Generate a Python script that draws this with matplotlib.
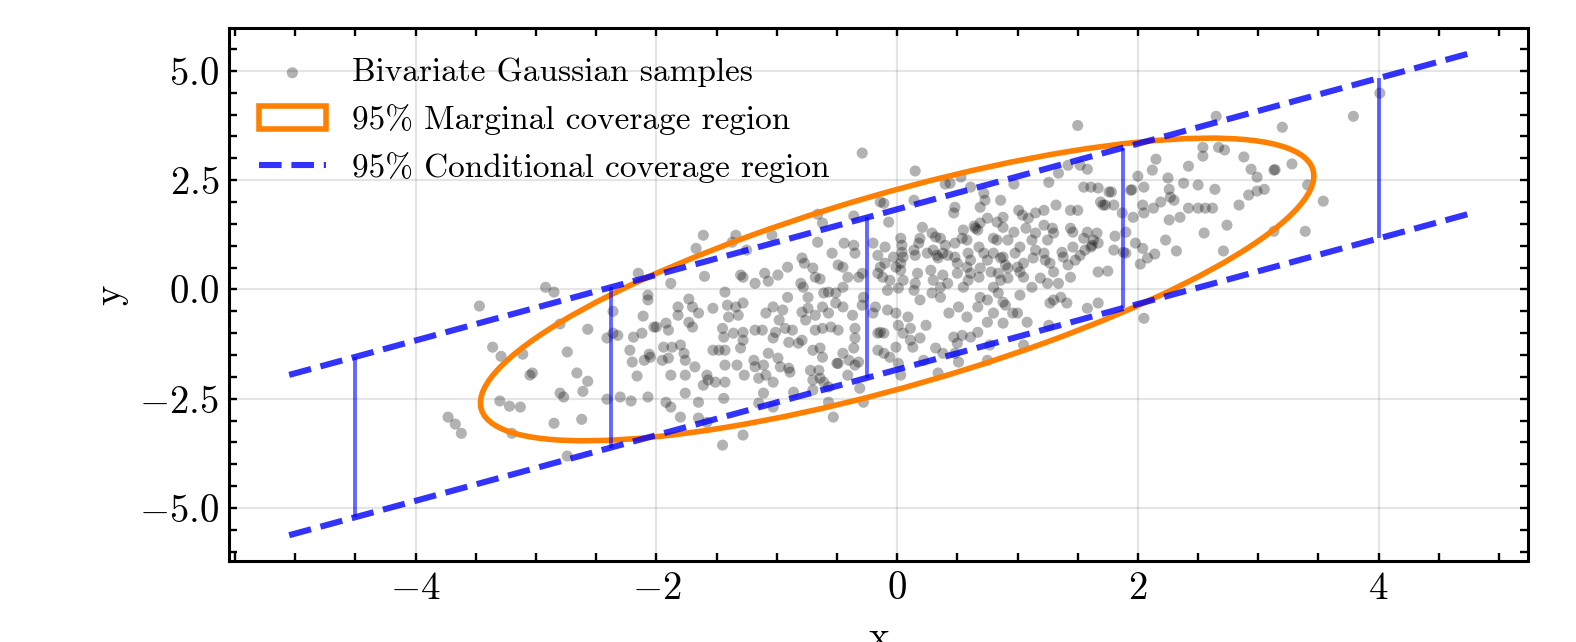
import numpy as np
import matplotlib
matplotlib.use("Agg")
import matplotlib.pyplot as plt
from matplotlib.patches import Ellipse
from matplotlib.ticker import MultipleLocator

# ---------------- data ----------------
mean = [0.0, 0.0]
cov = [[2.0, 1.5], [1.5, 2.0]]
chi2_95 = 5.991          # 95% quantile, chi-square with 2 dof
z_95 = 1.96              # 95% two-sided normal quantile
x_band = [-5.05, 4.75]   # extent of conditional band lines
x_cond = [-4.5, -2.375, -0.25, 1.875, 4.0]  # vertical interval markers

samples = [
    (-3.47,-0.38),(-3.36,-1.32),(-3.29,-1.53),(-3.11,-1.48),(-3.03,-1.91),(-3.05,-1.96),(-2.80,-0.79),(-2.74,-1.43),
    (-2.66,-1.91),(-2.57,-0.91),(-2.57,-2.10),(-2.80,-2.37),(-2.77,-2.46),(-2.61,-2.33),(-3.30,-2.55),(-3.22,-2.67),
    (-3.13,-2.69),(-3.73,-2.92),(-3.67,-3.08),(-3.62,-3.29),(-3.20,-3.29),(-2.85,-3.06),(-2.62,-2.97),(-2.74,-3.81),
    (-2.36,-0.50),(-2.36,-1.00),(-2.32,-1.05),(-2.41,-1.11),(-2.41,-2.51),(-2.30,-2.46),(-2.21,-2.55),(-2.07,-2.46),
    (-2.22,-1.39),(-2.19,-1.09),(-2.12,-1.00),(-2.11,-0.61),(-2.02,-0.86),(-2.20,-1.66),(-2.16,-1.98),(-2.10,-1.62),
    (-2.06,-1.48),(-2.05,-1.55),(-2.07,-0.24),
    (-2.92,0.05),(-2.85,-0.06),(-2.15,0.37),(-2.07,-0.13),
    (-0.29,3.12),(-1.61,1.24),(-1.67,0.94),(-1.34,1.24),(-1.37,1.08),(-1.25,0.90),(-1.04,1.24),(-0.66,1.72),
    (-0.62,1.52),(-0.66,1.08),(-0.36,1.68),(-0.36,1.01),(-0.44,1.06),(-0.35,0.83),(-1.60,0.30),(-1.88,0.14),
    (-1.73,-0.22),(-1.43,-0.06),(-1.30,0.33),(-1.28,0.28),(-1.18,0.14),(-1.10,0.37),(-1.07,0.19),(-0.99,0.33),
    (-0.91,0.51),(-0.79,0.72),(-0.77,0.60),(-0.80,0.14),(-0.78,0.05),(-0.70,0.49),(-0.68,0.28),(-0.64,0.24),
    (-0.61,-0.08),(-0.57,-0.06),(-0.51,-0.08),(-0.54,0.83),(-0.49,0.56),(-0.45,0.51),(-0.41,0.28),(-0.32,0.28),
    (-0.29,0.37),(-0.20,1.06),(-0.16,0.37),(-0.12,0.28),(-0.16,0.78),(-0.11,1.97),(-0.91,-0.18),(-0.74,-0.18),
    (-0.45,0.05),(-0.28,-0.18),
    (0.15,2.71),(0.14,2.04),(0.40,2.41),(0.44,2.43),(0.53,2.57),(0.61,2.34),(0.72,2.20),(0.73,2.04),
    (0.86,2.04),(0.69,1.88),(0.48,1.88),(0.47,1.75),(0.97,2.41),(1.26,2.45),(1.34,2.66),(1.42,2.84),
    (1.52,2.84),(1.58,2.75),(1.61,2.34),(1.67,2.32),(1.55,2.34),(1.69,2.00),(1.71,1.93),(1.76,2.23),
    (1.32,1.93),(1.44,1.81),(1.50,1.81),(1.01,1.81),(1.04,1.70),(1.15,1.75),(1.22,1.81),(1.09,1.63),
    (-0.14,2.00),(-0.07,1.54),(0.21,1.42),(0.65,1.40),(0.67,1.36),(0.64,1.45),(0.75,1.63),(0.69,1.52),
    (0.83,1.54),(0.88,1.65),(0.88,1.42),(0.97,1.31),(1.07,1.40),(1.22,1.47),(1.29,1.40),(1.30,1.29),
    (1.15,1.29),(1.44,1.40),(1.46,1.31),(1.58,1.31),(1.66,1.29),(1.55,1.17),(1.63,1.13),(1.61,0.97),
    (1.67,1.06),(1.25,1.13),(1.12,1.13),(0.92,1.13),(0.83,1.13),(0.80,1.17),(0.55,1.36),(0.54,1.17),
    (0.58,1.13),(0.48,1.06),(0.29,1.29),(0.32,1.20),(0.36,1.17),(0.19,1.17),(0.18,1.06),(0.03,1.17),
    (0.04,1.01),(-0.10,0.97),(0.40,1.01),(0.38,0.83),(0.42,0.78),(0.30,0.90),(0.33,0.78),(0.34,0.72),
    (0.25,0.83),(0.14,0.90),(0.15,0.78),(0.04,0.85),(0.05,0.74),(0.03,0.60),(-0.03,0.74),(-0.01,0.51),
    (-0.10,0.60),(-0.14,0.51),(0.48,0.74),(0.50,0.60),(0.59,0.83),(0.61,0.67),(0.68,0.97),(0.72,0.83),
    (0.75,0.67),(0.86,0.72),(0.88,0.74),(0.90,0.56),(0.92,0.49),(0.80,0.83),(0.98,0.83),(1.02,0.97),
    (1.05,0.60),(1.00,0.51),(1.13,0.72),(1.15,0.90),(1.22,0.83),(1.23,0.67),(1.27,0.60),(1.37,0.85),
    (1.38,0.74),(1.42,0.56),(1.46,0.97),(1.48,0.67),(1.52,0.78),(1.56,0.90),(1.62,1.01),(1.67,0.40),
    (1.44,0.28),(1.30,0.40),(1.34,0.14),(1.19,0.26),(1.25,0.14),(1.12,0.05),(1.02,0.40),(1.05,0.28),
    (0.92,0.26),(0.84,0.37),(0.86,0.21),(0.78,0.40),(0.80,0.05),(0.69,0.49),(0.68,0.28),(0.58,0.51),
    (0.61,0.37),(0.59,0.21),(0.50,0.37),(0.55,0.05),(0.38,0.33),(0.42,0.14),(0.36,0.05),(0.28,0.44),
    (0.30,0.21),(0.29,-0.08),(0.17,0.37),(0.15,0.14),(0.14,-0.02),(0.03,0.44),(0.05,0.21),(0.01,0.03),
    (-0.06,0.21),(-0.08,-0.02),(0.19,-0.24),(0.36,-0.18),(0.69,-0.18),(0.75,-0.24),(0.84,-0.08),(0.88,-0.29),
    (1.02,-0.13),(1.30,-0.24),(1.36,-0.18),
    (2.65,3.96),(3.20,3.71),(2.54,3.25),(2.54,3.05),(2.67,3.25),(2.72,3.19),(2.88,3.03),(2.15,2.98),
    (2.12,2.73),(2.42,2.82),(2.94,2.75),(2.99,2.57),(3.13,2.73),(3.14,2.74),(3.28,2.87),(2.00,2.59),
    (2.25,2.55),(2.38,2.43),(2.50,2.39),(2.64,2.29),(3.41,2.39),(3.05,2.29),(2.99,2.25),(2.92,2.16),
    (3.54,2.02),(1.78,2.23),(1.94,2.27),(1.95,2.28),(2.05,2.34),(2.26,2.29),(2.27,2.11),(2.30,2.04),
    (2.19,2.00),(2.13,1.86),(2.04,1.93),(2.05,1.75),(1.96,1.65),(1.73,1.93),(1.80,1.93),(1.87,1.75),
    (2.42,1.86),(2.50,1.86),(2.56,1.86),(2.62,1.86),(2.84,1.93),(2.26,1.59),(2.35,1.65),(2.74,1.47),
    (1.90,1.31),(1.81,1.22),(2.55,1.29),(3.13,1.33),(3.39,1.33),(2.23,1.13),(1.98,1.06),(2.04,0.94),
    (1.80,0.90),(1.88,0.85),(1.90,0.83),(2.32,0.88),(2.14,0.81),(2.08,0.72),(2.02,0.58),(2.71,0.88),
    (1.75,0.42),
    (4.01,4.49),(3.79,3.96),(2.05,-0.66),(1.50,3.75),
    (-1.82,-0.40),(-1.82,-0.59),(-1.92,-0.77),(-1.90,-0.93),(-2.00,-0.86),(-1.70,-0.40),(-1.65,-0.54),(-1.73,-0.75),
    (-1.70,-0.86),(-1.53,-0.43),(-1.41,-0.36),(-1.34,-0.40),(-1.28,-0.31),(-1.32,-0.59),(-1.40,-0.63),(-1.45,-0.89),
    (-1.44,-1.09),(-1.36,-1.00),(-1.28,-0.98),(-1.28,-1.16),(-1.48,-1.39),(-1.53,-1.39),(-1.43,-1.39),(-1.30,-1.34),
    (-1.18,-0.93),(-1.12,-0.93),(-1.09,-0.54),(-1.03,-0.40),(-0.95,-0.47),(-0.98,-0.70),(-1.03,-1.11),(-1.01,-0.98),
    (-0.87,-0.93),(-0.93,-0.89),(-0.90,-1.21),(-0.79,-0.52),(-0.74,-0.43),(-0.76,-0.70),(-0.68,-0.59),(-0.62,-0.40),
    (-0.57,-0.54),(-0.51,-0.31),(-0.45,-0.40),(-0.37,-0.59),(-0.29,-0.36),(-0.68,-0.93),(-0.62,-0.89),(-0.55,-0.86),
    (-0.49,-0.93),(-0.82,-1.23),(-0.79,-1.16),(-0.70,-1.39),(-0.64,-1.34),(-0.62,-1.55),(-0.35,-0.89),(-0.35,-1.11),
    (-0.36,-1.34),(-0.45,-1.46),(-0.50,-1.69),(-0.40,-1.62),(-0.32,-1.66),(-0.35,-1.73),(-0.16,-1.00),(-0.16,-1.39),
    (-0.20,-0.54),(-0.18,-0.40),(-1.94,-1.32),(-1.87,-1.32),(-1.80,-1.27),(-1.95,-1.62),(-1.90,-1.57),(-1.77,-1.46),
    (-1.76,-1.62),(-1.88,-1.96),(-1.76,-1.96),(-1.68,-1.77),(-1.58,-1.96),(-1.57,-2.07),(-1.51,-2.12),(-1.61,-2.19),
    (-1.43,-2.12),(-1.43,-1.73),(-1.33,-1.73),(-1.27,-1.96),(-1.18,-1.77),(-1.19,-1.62),(-1.11,-1.73),(-1.15,-2.03),
    (-1.09,-1.96),(-1.03,-2.12),(-1.07,-1.46),(-0.99,-1.57),(-0.97,-1.77),(-0.90,-1.80),(-0.89,-1.89),(-0.72,-1.85),
    (-0.65,-1.85),(-0.64,-2.03),(-0.70,-2.07),(-0.61,-2.12),(-0.57,-2.23),(-0.49,-1.69),(-0.41,-1.96),(-1.76,-2.37),
    (-1.92,-2.58),(-1.88,-2.69),(-1.80,-2.92),(-1.65,-2.58),(-1.44,-2.49),(-1.65,-2.94),(-1.58,-3.04),(-1.11,-2.37),
    (-1.15,-2.60),(-1.03,-2.69),(-0.86,-2.35),(-0.70,-2.30),(-0.57,-2.58),(-0.53,-2.92),(-0.31,-2.26),(-0.28,-2.58),
    (-1.28,-3.33),(-1.45,-3.56),
    (-0.01,-0.54),(0.09,-0.63),(0.01,-0.82),(0.05,-1.00),(0.11,-0.89),(0.13,-1.32),(0.11,-1.16),(0.19,-1.11),
    (0.24,-0.82),(-0.08,-0.47),(-0.14,-0.98),(-0.11,-1.00),(-0.01,-1.32),(-0.06,-1.55),(-0.11,-1.46),(0.01,-1.69),
    (0.03,-1.96),(0.22,-1.62),(0.32,-1.34),(0.34,-1.91),(0.38,-1.46),(0.47,-1.09),(0.50,-1.23),(0.54,-1.05),
    (0.61,-1.09),(0.67,-0.98),(0.43,-0.54),(0.51,-0.40),(0.58,-0.63),(0.67,-0.40),(0.75,-0.75),(0.80,-0.54),
    (0.88,-0.77),(0.90,-0.36),(0.96,-0.54),(1.00,-0.54),(1.08,-0.75),(1.27,-0.31),(1.41,-0.31),(1.58,-0.43),
    (1.67,-0.31),(1.26,-0.82),(1.05,-1.27),(0.77,-1.27),(0.48,-1.46),(0.51,-1.66),(0.75,-1.62),
]
sample_x = [p[0] for p in samples]
sample_y = [p[1] for p in samples]

labels = ["Bivariate Gaussian samples",
          "95% Marginal coverage region",
          "95% Conditional coverage region"]

# ---------------- style ----------------
plt.rcParams.update({
    "font.family": "serif",
    "font.serif": ["cmr10"],
    "mathtext.fontset": "cm",
    "axes.formatter.use_mathtext": True,
    "font.size": 14,
    "axes.linewidth": 1.1,
    "xtick.direction": "in", "ytick.direction": "in",
    "xtick.top": True, "ytick.right": True,
    "xtick.major.size": 3, "ytick.major.size": 3,
    "xtick.minor.size": 3, "ytick.minor.size": 3,
    "xtick.major.width": 0.85, "ytick.major.width": 0.85,
    "xtick.minor.width": 0.85, "ytick.minor.width": 0.85,
    "xtick.labelsize": 14, "ytick.labelsize": 14,
})

fig = plt.figure(figsize=(7.88, 3.21), dpi=200)
ax = fig.add_axes([0.1453, 0.1262, 0.8242, 0.8302])

ax.grid(True, color="gray", alpha=0.2, lw=0.8)
ax.set_axisbelow(True)

sc = ax.scatter(sample_x, sample_y, s=16, c="black", alpha=0.3,
                edgecolors="none", label=labels[0], zorder=2)

# marginal ellipse from covariance
cov_a = np.array(cov)
vals, vecs = np.linalg.eigh(cov_a)
order = vals.argsort()[::-1]
vals, vecs = vals[order], vecs[:, order]
angle = np.degrees(np.arctan2(vecs[1, 0], vecs[0, 0]))
w, h = 2 * np.sqrt(chi2_95 * vals)
ell = Ellipse(xy=mean, width=w, height=h, angle=angle, facecolor="none",
              edgecolor="#ff8000", lw=2.0, label=labels[1], zorder=3)
ax.add_patch(ell)

# conditional band
slope = cov_a[0, 1] / cov_a[0, 0]
cond_sd = np.sqrt(cov_a[1, 1] - cov_a[0, 1] ** 2 / cov_a[0, 0])
xb = np.array(x_band)
mb = mean[1] + slope * (xb - mean[0])
ax.plot(xb, mb + z_95 * cond_sd, "--", color="blue", alpha=0.8, lw=2.2,
        label=labels[2], zorder=4)
ax.plot(xb, mb - z_95 * cond_sd, "--", color="blue", alpha=0.8, lw=2.2, zorder=4)

xc = np.array(x_cond)
mc = mean[1] + slope * (xc - mean[0])
ax.vlines(xc, mc - z_95 * cond_sd, mc + z_95 * cond_sd, color="blue",
          alpha=0.6, lw=1.4, zorder=4)

ax.set_xlim(-5.55, 5.24)
ax.set_ylim(-6.21, 5.98)
ax.xaxis.set_major_locator(MultipleLocator(2))
ax.xaxis.set_minor_locator(MultipleLocator(0.5))
ax.yaxis.set_major_locator(MultipleLocator(2.5))
ax.yaxis.set_minor_locator(MultipleLocator(0.5))

ax.set_xlabel("x", labelpad=5)
ax.set_ylabel("y", labelpad=4)

ax.legend(loc="upper left", frameon=False, fontsize=12)

fig.savefig("out.png", dpi=200)
